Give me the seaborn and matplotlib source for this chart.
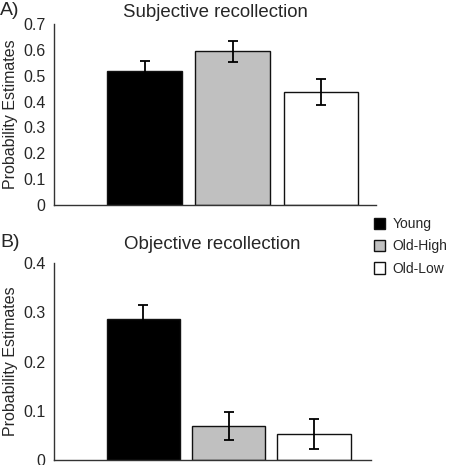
import matplotlib
matplotlib.use("Agg")
import matplotlib.pyplot as plt
import seaborn as sns
import pandas as pd
import numpy as np

groups = ["Young", "Old-High", "Old-Low"]
colors = ["#000000", "#c0c0c0", "#ffffff"]

subj_values = [0.52, 0.594, 0.438]
subj_errors = [0.038, 0.040, 0.050]
obj_values = [0.287, 0.069, 0.053]
obj_errors = [0.029, 0.029, 0.030]

subj_ticks = [0, 0.1, 0.2, 0.3, 0.4, 0.5, 0.6, 0.7]
subj_ticklabels = ["0", "0.1", "0.2", "0.3", "0.4", "0.5", "0.6", "0.7"]
obj_ticks = [0, 0.1, 0.2, 0.3, 0.4]
obj_ticklabels = ["0", "0.1", "0.2", "0.3", "0.4"]

sns.set_style("white")
plt.rcParams["font.family"] = ["Liberation Sans", "DejaVu Sans"]

fig = plt.figure(figsize=(4.5, 4.65), dpi=100)
ax1 = fig.add_axes([0.12, 0.5591, 0.7156, 0.3893])
ax2 = fig.add_axes([0.12, 0.01075, 0.7044, 0.4230])

palette = dict(zip(groups, colors))


def panel(ax, values, errors, ticks, ticklabels, ymax, xlim, title, title_pad,
          letter, letter_y, width, legend):
    df = pd.DataFrame({"group": groups, "value": values})
    sns.barplot(data=df, x="group", y="value", hue="group", palette=palette,
                order=groups, hue_order=groups, dodge=False, width=width,
                edgecolor="#111111", linewidth=1.0, ax=ax, legend=legend)
    ax.errorbar(np.arange(len(groups)), values, yerr=errors, fmt="none",
                ecolor="#000000", elinewidth=1.3, capsize=3.5, capthick=1.3, zorder=5)
    ax.set_xlim(*xlim)
    ax.set_ylim(0, ymax)
    ax.set_yticks(ticks)
    ax.set_yticklabels(ticklabels, fontsize=11.5)
    ax.set_xticks([])
    ax.set_xlabel("")
    ax.set_ylabel("Probability Estimates", fontsize=11.5, labelpad=4)
    for s in ["top", "right"]:
        ax.spines[s].set_visible(False)
    for s in ["left", "bottom"]:
        ax.spines[s].set_color("#333333")
        ax.spines[s].set_linewidth(1.0)
    ax.tick_params(axis="y", direction="out", length=3, width=1, color="#333333", pad=3)
    ax.set_title(title, fontsize=13.4, pad=title_pad, x=0.5)
    fig.text(0.0, letter_y, letter, fontsize=14, ha="left", va="center")


panel(ax1, subj_values, subj_errors, subj_ticks, subj_ticklabels, 0.7,
      (-1.03, 2.625), "Subjective recollection", 5, "A)", 0.977, 0.85, False)
panel(ax2, obj_values, obj_errors, obj_ticks, obj_ticklabels, 0.4,
      (-1.05, 2.67), "Objective recollection", 10, "B)", 0.478, 0.86, True)

# move the legend to the right side between the panels
handles, labels = ax2.get_legend_handles_labels()
ax2.get_legend().remove()
fig.legend(handles, labels, loc="upper left", bbox_to_anchor=(0.818, 0.545),
           frameon=False, fontsize=10.0, handlelength=0.85, handleheight=0.85,
           handletextpad=0.5, labelspacing=0.6, borderaxespad=0)

fig.savefig("out.png", dpi=100)
